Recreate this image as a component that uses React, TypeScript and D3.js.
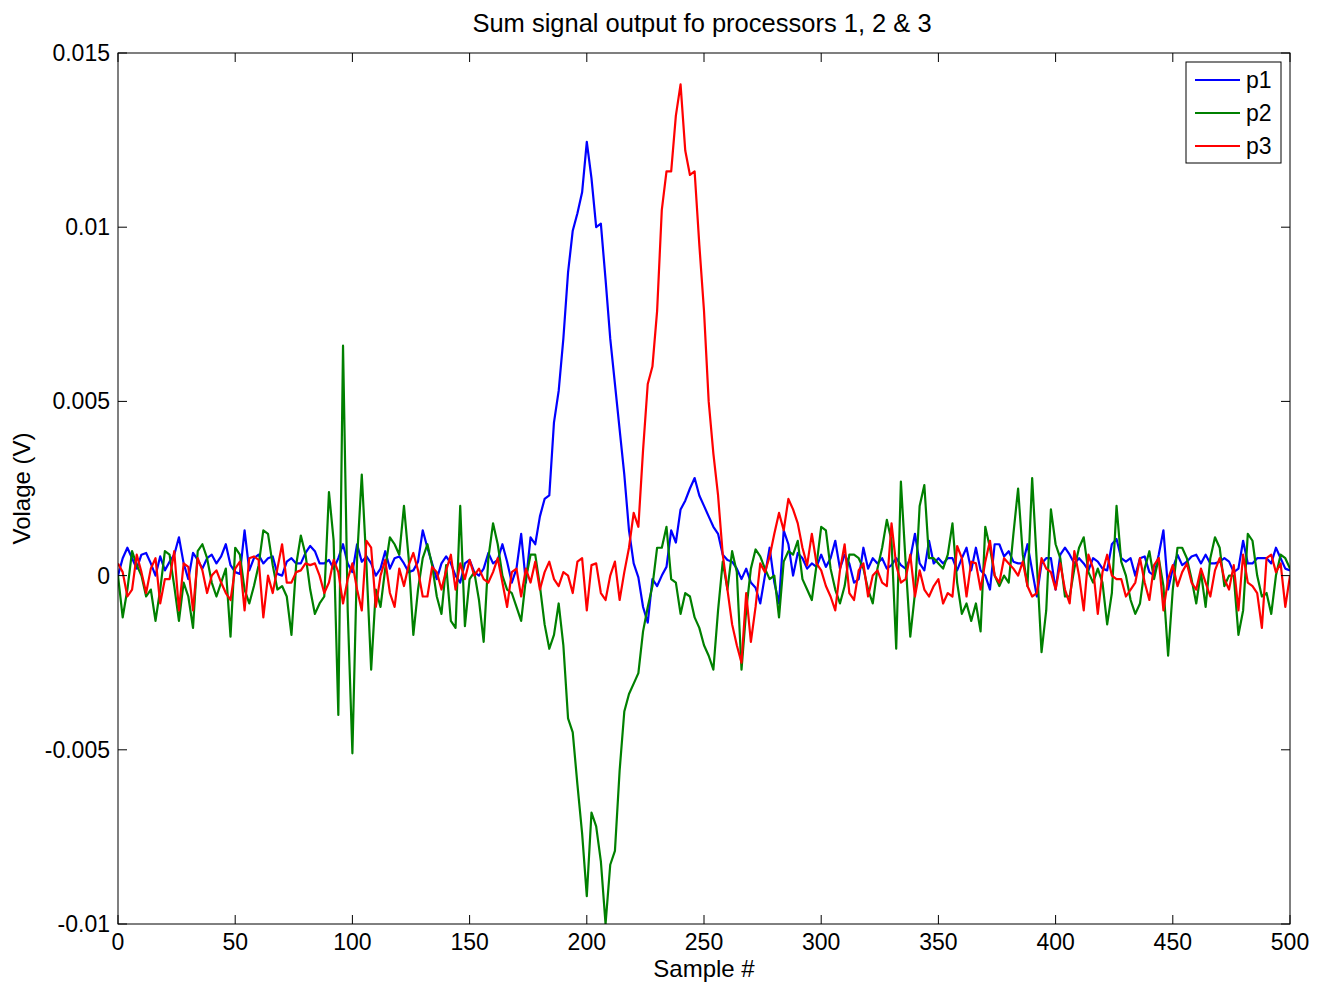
import React from "react";
import * as d3 from "d3";

// sample spacing of the arrays below
const STEP = 2;

const xTicks = [0, 50, 100, 150, 200, 250, 300, 350, 400, 450, 500];
const yTicks = [-0.01, -0.005, 0, 0.005, 0.01, 0.015];

// values in mV, one every STEP samples (0..500)
const p1 = [
  0.0, 0.5, 0.8, 0.5, 0.2, 0.6, 0.65, 0.35, 0.0, 0.55,
  0.15, 0.4, 0.6, 1.1, 0.35, -0.1, 0.65, 0.45, 0.2, 0.5,
  0.6, 0.35, 0.55, 0.9, 0.3, 0.1, 0.05, 1.3, 0.15, 0.5,
  0.6, 0.35, 0.5, 0.55, 0.05, 0.0, 0.4, 0.5, 0.35, 0.35,
  0.65, 0.85, 0.7, 0.35, 0.35, 0.45, 0.2, 0.5, 0.9, 0.35,
  0.1, 0.9, 0.4, 0.55, 0.35, 0.0, 0.2, 0.7, 0.2, 0.5,
  0.55, 0.35, 0.1, 0.15, 0.4, 1.3, 0.8, 0.35, -0.1, 0.35,
  0.55, 0.35, 0.0, -0.2, 0.35, 0.45, 0.1, 0.0, 0.2, 0.65,
  0.35, 0.45, 0.9, 0.4, -0.2, 0.2, 1.2, -0.2, 1.1, 0.9,
  1.7, 2.2, 2.3, 4.4, 5.3, 6.8, 8.7, 9.9, 10.4, 11.0,
  12.45, 11.4, 10.0, 10.1, 8.5, 6.8, 5.5, 4.2, 2.9, 1.3,
  0.35, -0.05, -0.9, -1.35, -0.1, -0.3, 0.0, 0.25, 1.3, 0.95,
  1.9, 2.15, 2.5, 2.8, 2.3, 2.0, 1.7, 1.4, 1.2, 0.6,
  0.45, 0.4, 0.2, -0.1, 0.2, -0.2, -0.35, -0.8, 0.0, 0.8,
  -0.2, -0.8, 1.3, 0.9, 0.0, 0.65, 0.5, 0.2, 0.35, 0.25,
  0.6, 0.25, 0.5, 1.0, 0.2, 0.6, 0.35, -0.2, -0.1, 0.8,
  0.2, 0.5, 0.35, 0.5, 0.2, 0.3, 0.5, 0.3, 0.2, 0.5,
  1.2, 0.35, 0.15, 1.0, 0.35, 0.5, 0.35, 0.5, 0.5, 0.15,
  0.5, 0.8, 0.15, 0.8, 0.15, 0.0, -0.4, 0.9, 0.9, 0.55,
  0.7, 0.4, 0.35, 0.35, 0.9, 0.15, -0.6, 0.35, 0.5, 0.5,
  -0.4, 0.6, 0.8, 0.6, 0.35, 0.5, 0.35, 0.15, 0.5, 0.4,
  0.2, 0.15, 0.9, 1.05, 0.5, 0.4, 0.5, 0.0, 0.5, 0.55,
  0.1, 0.0, 0.6, 1.3, -0.4, 0.2, 0.6, 0.3, 0.4, 0.55,
  0.6, 0.35, 0.6, 0.35, 0.35, 0.4, 0.5, 0.4, 0.1, 0.2,
  1.0, 0.35, 0.35, 0.5, 0.5, 0.5, 0.35, 0.8, 0.5, 0.2,
  0.15,
];

const p2 = [
  0.0, -1.2, -0.4, 0.7, 0.3, 0.0, -0.6, -0.4, -1.3, -0.4,
  0.7, 0.6, -0.3, -1.3, -0.2, -0.6, -1.5, 0.7, 0.9, 0.5,
  -0.2, -0.6, -0.2, 0.2, -1.75, 0.8, 0.6, -0.4, -0.8, -0.3,
  0.3, 1.3, 1.2, 0.3, -0.4, -0.3, -0.6, -1.7, 0.3, 1.15,
  0.6, -0.4, -1.1, -0.8, -0.6, 2.4, 1.0, -4.0, 6.6, -1.0,
  -5.1, 0.5, 2.9, 0.3, -2.7, -0.4, -0.9, 0.2, 1.1, 0.9,
  0.6, 2.0, 0.5, -1.7, -0.4, 0.5, 0.9, 0.3, -0.6, -1.1,
  0.3, -1.3, -1.5, 2.0, -1.45, -0.1, 0.1, -0.7, -1.9, 0.5,
  1.5, 0.9, 0.0, -0.4, -0.5, -0.9, -1.3, -0.1, 0.6, 0.6,
  -0.3, -1.4, -2.1, -1.7, -0.8, -2.0, -4.1, -4.5, -6.0, -7.4,
  -9.2, -6.8, -7.2, -8.2, -10.0, -8.3, -7.9, -5.6, -3.9, -3.4,
  -3.1, -2.8, -1.6, -0.9, -0.3, 0.8, 0.8, 1.4, -0.1, -0.2,
  -1.1, -0.5, -0.6, -1.2, -1.5, -2.0, -2.3, -2.7, -1.0, 0.4,
  -0.4, 0.7, 0.1, -2.7, -1.0, 0.2, 0.75, 0.55, 0.2, -0.1,
  0.0, -1.2, 0.4, 0.7, 0.6, 1.0, -0.1, -0.4, -0.7, 0.3,
  1.4, 1.3, 0.2, -0.4, -0.8, -0.3, 0.6, 0.6, 0.5, 0.2,
  -0.4, -0.8, 0.2, 0.8, 1.6, 1.0, -2.1, 2.7, 0.4, -1.75,
  -0.5, 2.0, 2.6, 0.5, 0.5, 0.35, 0.2, 0.6, 1.5, -0.2,
  -1.1, -0.8, -1.3, -0.8, -1.6, 1.4, 0.8, 0.0, -0.3, 0.0,
  -0.2, 1.2, 2.5, 0.6, -0.3, 2.8, 0.35, -2.2, -1.0, 1.9,
  0.9, 0.5, -0.6, -0.6, 0.2, 0.8, 1.1, 0.1, -0.2, 0.2,
  -0.2, -1.4, -0.5, 2.0, 0.4, 0.0, -0.7, -1.1, -0.8, 0.2,
  0.7, -0.1, 0.5, -0.3, -2.3, -0.4, 0.8, 0.8, 0.5, -0.1,
  -0.8, 0.1, -0.9, 0.5, 1.1, 0.8, -0.3, 0.0, 0.0, -1.7,
  -1.0, 1.2, 1.0, 0.0, -0.6, -0.5, -1.1, 0.0, 0.6, 0.5,
  0.2,
];

const p3 = [
  0.35, 0.1, -0.6, -0.4, 0.6, 0.1, -0.5, 0.2, 0.5, -0.8,
  -0.1, -0.1, 0.7, -1.0, 0.35, 0.25, -1.0, 0.5, 0.15, -0.5,
  0.0, 0.15, -0.2, -0.5, -0.7, 0.2, 0.4, -1.0, 0.5, 0.55,
  0.45, -1.2, 0.0, -0.5, 0.2, 0.9, -0.2, -0.2, 0.1, 0.15,
  0.35, 0.3, 0.35, 0.0, -0.5, -0.2, 0.45, 0.1, -0.8, -0.1,
  0.35, -0.4, -1.0, 1.0, 0.8, -0.9, 0.0, 0.45, -0.5, -0.9,
  0.2, -0.3, 0.3, 0.65, 0.15, -0.6, -0.6, 0.25, 0.1, -0.4,
  0.15, 0.6, -0.4, 0.35, -0.1, 0.45, 0.0, 0.2, -0.1, -0.2,
  0.1, 0.5, -0.2, -0.9, 0.1, 0.2, -0.6, 0.2, -0.2, 0.4,
  -0.4, 0.1, 0.4, -0.1, -0.3, 0.1, 0.0, -0.5, 0.4, 0.5,
  -1.0, 0.3, 0.35, -0.5, -0.7, 0.0, 0.4, -0.7, 0.1, 0.8,
  1.8, 1.4, 3.6, 5.5, 6.0, 7.6, 10.5, 11.6, 11.6, 13.2,
  14.1, 12.2, 11.5, 11.6, 9.5, 7.6, 5.0, 3.5, 2.3, 0.6,
  -0.4, -1.4, -2.0, -2.5, -0.5, -1.9, -0.9, 0.35, 0.1, 0.55,
  1.2, 1.8, 1.3, 2.2, 1.9, 1.5, 0.8, 0.3, 1.2, 0.35,
  0.15, -0.3, -0.6, -1.0, 0.15, 0.9, -0.5, -0.7, 0.15, 0.35,
  -0.6, 0.0, 0.15, -0.2, -0.3, 1.5, 0.3, -0.2, -0.1, 0.6,
  -0.6, 0.15, -0.4, -0.6, -0.3, -0.1, -0.8, -0.5, -0.6, 0.85,
  0.5, -0.6, 0.4, 0.35, -0.4, 0.4, 1.0, 0.0, -0.2, 0.5,
  0.35, 0.2, 0.0, 0.4, -0.3, -0.6, -0.5, 0.5, 0.2, 0.1,
  -0.4, 0.35, -0.4, -0.8, 0.7, 0.0, -1.0, 0.6, 0.2, -1.1,
  0.1, 0.6, 0.0, -0.1, -0.1, -0.6, -0.4, -0.2, 0.5, -0.2,
  -0.7, 0.3, 0.5, -1.0, -0.1, 0.3, -0.3, 0.1, 0.35, -0.2,
  -0.4, 0.2, -0.2, -0.6, 0.15, 0.5, -0.1, -0.4, 0.3, -1.0,
  0.6, -0.2, -0.3, -0.5, -1.5, 0.5, 0.6, 0.1, 0.35, -0.9,
  0.0,
];

const seriesNames = ["p1", "p2", "p3"];
const seriesColors = ["#0000ff", "#008000", "#ff0000"];
const seriesValues = [p1, p2, p3];

const W = 1322;
const H = 986;
const M = { left: 118, right: 1290, top: 53, bottom: 924 };
const FONT = "Arial, 'Liberation Sans', Helvetica, sans-serif";

export default function App() {
  const x = d3.scaleLinear().domain([0, 500]).range([M.left, M.right]);
  const y = d3.scaleLinear().domain([-0.01, 0.015]).range([M.bottom, M.top]);
  const line = d3
    .line<number>()
    .x((_, i) => x(i * STEP))
    .y((v) => y(v / 1000));
  const tk = 9;
  const fmt = (v: number) => String(+v.toFixed(4));

  return (
    <svg
      width={W}
      height={H}
      style={{ position: "absolute", left: 0, top: 0, background: "#fff" }}
      fontFamily={FONT}
    >
      <rect x={0} y={0} width={W} height={H} fill="#fff" />
      <defs>
        <clipPath id="plotclip">
          <rect x={M.left} y={M.top} width={M.right - M.left} height={M.bottom - M.top} />
        </clipPath>
      </defs>
      <g clipPath="url(#plotclip)">
        {seriesValues.map((vals, k) => (
          <path
            key={k}
            d={line(vals) || ""}
            fill="none"
            stroke={seriesColors[k]}
            strokeWidth={2.2}
            strokeLinejoin="round"
          />
        ))}
      </g>
      <rect
        x={M.left}
        y={M.top}
        width={M.right - M.left}
        height={M.bottom - M.top}
        fill="none"
        stroke="#000"
        strokeWidth={1}
      />
      {xTicks.map((t) => (
        <g key={"x" + t}>
          <line x1={x(t)} x2={x(t)} y1={M.bottom} y2={M.bottom - tk} stroke="#000" />
          <line x1={x(t)} x2={x(t)} y1={M.top} y2={M.top + tk} stroke="#000" />
          <text x={x(t)} y={950} fontSize={23} textAnchor="middle">
            {t}
          </text>
        </g>
      ))}
      {yTicks.map((t) => (
        <g key={"y" + t}>
          <line x1={M.left} x2={M.left + tk} y1={y(t)} y2={y(t)} stroke="#000" />
          <line x1={M.right} x2={M.right - tk} y1={y(t)} y2={y(t)} stroke="#000" />
          <text x={110} y={y(t) + 8} fontSize={23} textAnchor="end">
            {fmt(t)}
          </text>
        </g>
      ))}
      <text x={702} y={32} fontSize={25.5} textAnchor="middle">
        Sum signal output fo processors 1, 2 &amp; 3
      </text>
      <text x={(M.left + M.right) / 2} y={977} fontSize={24} textAnchor="middle">
        Sample #
      </text>
      <text
        transform={`translate(30, ${(M.top + M.bottom) / 2}) rotate(-90)`}
        fontSize={24}
        textAnchor="middle"
      >
        Volage (V)
      </text>
      <g>
        <rect x={1186} y={62} width={95} height={101} fill="#fff" stroke="#000" />
        {seriesNames.map((n, i) => (
          <g key={n}>
            <line
              x1={1195}
              x2={1240}
              y1={80 + i * 33}
              y2={80 + i * 33}
              stroke={seriesColors[i]}
              strokeWidth={2}
            />
            <text x={1246} y={88 + i * 33} fontSize={23}>
              {n}
            </text>
          </g>
        ))}
      </g>
    </svg>
  );
}
